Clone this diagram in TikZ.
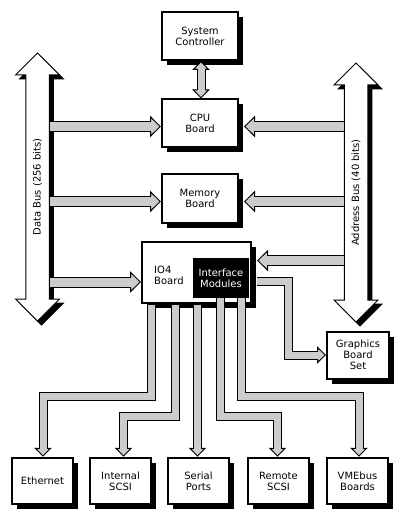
\documentclass[tikz,border=0pt]{standalone}
\usepackage{fontspec}
\newfontfamily\boxfont{DejaVu Sans}
\usetikzlibrary{arrows.meta,shapes.arrows,shadows}
\definecolor{bandgray}{gray}{0.8}

\begin{document}
\begin{tikzpicture}[x=1pt,y=-1pt,
    font=\boxfont\fontsize{10}{11}\selectfont,
    box/.style={draw, line width=2pt, fill=white, minimum width=76pt, minimum height=48pt,
      inner sep=0pt, align=center,
      drop shadow={shadow xshift=5pt, shadow yshift=-5pt, opacity=1, fill=black}},
    lowbox/.style={box, minimum width=61pt, minimum height=46.5pt},
    bus/.style={double arrow, draw, line width=1pt, fill=white, double arrow head extend=10.25pt,
      inner ysep=6.75pt, inner xsep=0pt, text height=7.5pt, text depth=1.5pt, rotate=90},
    busshadow/.style={bus, fill=black},
    band/.style={draw=bandgray, line width=7pt, line join=miter, shorten >=6.5pt,
      preaction={draw=black, line width=9pt, shorten >=0pt,
        -{Triangle[length=9pt, width=17.5pt, line width=1pt, fill=bandgray]}}},
    dband/.style={draw=bandgray, line width=7pt, line join=miter, shorten >=6.5pt, shorten <=6.5pt,
      preaction={draw=black, line width=9pt, shorten >=0pt, shorten <=0pt,
        {Triangle[length=9pt, width=17.5pt, line width=1pt, fill=bandgray]}-{Triangle[length=9pt, width=17.5pt, line width=1pt, fill=bandgray]}}},
    bigband/.style={draw=bandgray, line width=9pt, line join=miter, shorten >=8.5pt,
      preaction={draw=black, line width=11pt, shorten >=0pt,
        -{Triangle[length=11pt, width=21.5pt, line width=1pt, fill=bandgray]}}}]
  \useasboundingbox (0,0) rectangle (404,521);

  \node[busshadow, minimum height=268pt] at (41.5,191) {\phantom{Data Bus (256 bits)}};
  \node[bus, minimum height=268pt] (dbus) at (37.5,187) {Data Bus (256 bits)};
  \node[busshadow, minimum height=259pt] at (360,196.5) {\phantom{Address Bus (40 bits)}};
  \node[bus, minimum height=259pt] (abus) at (356,192.5) {Address Bus (40 bits)};

  \node[box] (sys) at (200,36) {System\\Controller};
  \node[box] (cpu) at (200,123.5) {CPU\\Board};
  \node[box] (mem) at (200,198.5) {Memory\\Board};
  \node[box, minimum width=109pt, minimum height=61pt] (io4) at (196.5,272.5) {};
  \node[anchor=west, align=left, inner sep=0pt] (io4txt) at (154,275) {IO4\\Board};
  \node[fill=black, text=white, minimum width=56pt, minimum height=40pt, inner sep=0pt,
    align=center] (ifm) at (221,278) {Interface\\Modules};
  \node[box, minimum width=62pt, minimum height=47pt] (gfx) at (358,355) {Graphics\\Board\\Set};

  \node[lowbox] (eth) at (42.5,481) {Ethernet};
  \node[lowbox] (isc) at (120.5,481) {Internal\\SCSI};
  \node[lowbox] (ser) at (198.5,481) {Serial\\Ports};
  \node[lowbox] (rsc) at (278.5,481) {Remote\\SCSI};
  \node[lowbox] (vme) at (357.5,481) {VMEbus\\Boards};

  \coordinate (upper) at (0,396.5);
  \coordinate (lower) at (0,416);

  \draw[dband] ([xshift=1pt]sys.south) -- ([xshift=1pt]cpu.north);

  \draw[bigband] ([yshift=-3pt]cpu.west -| dbus.south) -- ([yshift=-3pt]cpu.west);
  \draw[bigband] ([yshift=-3pt]cpu.east -| abus.north) -- ([xshift=5pt,yshift=-3pt]cpu.east);
  \draw[bigband] ([yshift=-3pt]mem.west -| dbus.south) -- ([yshift=-3pt]mem.west);
  \draw[bigband] ([yshift=-3pt]mem.east -| abus.north) -- ([xshift=5pt,yshift=-3pt]mem.east);
  \draw[bigband] ([yshift=-9.5pt]io4.west -| dbus.south) -- ([yshift=-9.5pt]io4.west);
  \draw[bigband] ([yshift=12pt]io4.east -| abus.north) -- ([xshift=5pt,yshift=12pt]io4.east);

  \draw[band] ([xshift=5pt,yshift=-8.5pt]io4.east) -| ([xshift=-38pt]gfx.west) -- (gfx.west);

  \draw[band] ([xshift=-45.5pt,yshift=-1pt]io4.south) |- ([xshift=0.5pt]eth.north |- upper)
    -- ([xshift=0.5pt]eth.north);
  \draw[band] ([xshift=-21pt,yshift=-1pt]io4.south) |- ([xshift=3pt]isc.north |- lower)
    -- ([xshift=3pt]isc.north);
  \draw[band] ([xshift=1pt,yshift=-1pt]io4.south) -- ([xshift=1pt]io4.south |- ser.north);
  \draw[band] ([xshift=-1pt]ifm.south) |- ([xshift=-1pt]rsc.north |- lower)
    -- ([xshift=-1pt]rsc.north);
  \draw[band] ([xshift=20.5pt]ifm.south) |- ([xshift=1.5pt]vme.north |- upper)
    -- ([xshift=1.5pt]vme.north);
\end{tikzpicture}
\end{document}
